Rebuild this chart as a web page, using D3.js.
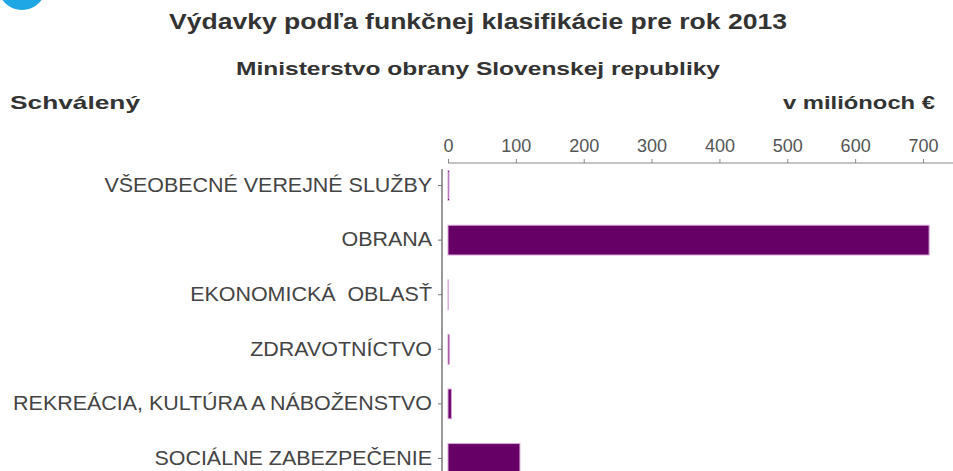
<!DOCTYPE html>
<html>
<head>
<meta charset="utf-8">
<script src="https://cdn.jsdelivr.net/npm/d3@7"></script>
<style>
  html, body { margin: 0; padding: 0; background: #fff; }
  svg { display: block; font-family: "Liberation Sans", Arial, sans-serif; }
</style>
</head>
<body>
<svg id="chart" width="953" height="471"></svg>
<script>
// Functional classification of expenditures, approved budget 2013 (mil. €)
const categories = [
  "VŠEOBECNÉ VEREJNÉ SLUŽBY",
  "OBRANA",
  "EKONOMICKÁ  OBLASŤ",
  "ZDRAVOTNÍCTVO",
  "REKREÁCIA, KULTÚRA A NÁBOŽENSTVO",
  "SOCIÁLNE ZABEZPEČENIE"
];
const values = [1.5, 709, 0.3, 2, 5, 106];
const tickValues = [0, 100, 200, 300, 400, 500, 600, 700];

const title = "Výdavky podľa funkčnej klasifikácie pre rok 2013";
const subtitle = "Ministerstvo obrany Slovenskej republiky";
const leftNote = "Schválený";
const unitNote = "v miliónoch €";

const svg = d3.select("#chart");

// decorative logo circle in the corner
svg.append("circle")
  .attr("cx", 22).attr("cy", -14).attr("r", 24)
  .attr("fill", "#1fa6e4");

// header texts use a wide set: glyphs stretched to the given run length
function header(txt, xPos, yPos, size, len, anchor) {
  svg.append("text")
    .attr("x", xPos).attr("y", yPos)
    .attr("text-anchor", anchor)
    .attr("font-size", size).attr("font-weight", "bold")
    .attr("fill", "#333")
    .attr("textLength", len)
    .attr("lengthAdjust", "spacingAndGlyphs")
    .text(txt);
}
header(title, 478, 29, 22, 618, "middle");
header(subtitle, 478, 75, 19, 484, "middle");
header(leftNote, 10, 109, 19, 130, "start");
header(unitNote, 935, 109, 19, 152, "end");

const x0 = 448;
const x = d3.scaleLinear().domain([0, 700]).range([x0, 923]);
const y = d3.scaleBand().domain(categories).range([157, 487]).paddingInner(0.4545).paddingOuter(0.25);

// top value axis
const xAxis = svg.append("g")
  .attr("transform", "translate(0,163)")
  .call(d3.axisTop(x).tickValues(tickValues).tickSize(4).tickSizeOuter(0).tickPadding(7));
xAxis.select(".domain").remove();
xAxis.append("line")
  .attr("x1", x0).attr("x2", 953).attr("y1", 0).attr("y2", 0)
  .attr("stroke", "#888").attr("stroke-width", 1);
xAxis.selectAll(".tick line").attr("stroke", "#888");
xAxis.selectAll(".tick text")
  .attr("font-size", 17.5).attr("fill", "#555")
  .attr("font-family", "'Liberation Sans', Arial, sans-serif")
  .attr("transform", "scale(1.03,1)");

// category axis
const yAxis = svg.append("g")
  .attr("transform", "translate(442,0)")
  .call(d3.axisLeft(y).tickSize(4).tickSizeOuter(0).tickPadding(6));
yAxis.select(".domain")
  .attr("d", `M0,169V471`)
  .attr("stroke", "#999").attr("stroke-width", 2);
yAxis.selectAll(".tick line").attr("stroke", "#777");
const labelStretch = 1.1;
yAxis.selectAll(".tick text")
  .attr("font-size", 19.5).attr("fill", "#444")
  .attr("font-family", "'Liberation Sans', Arial, sans-serif")
  .attr("x", -10 / labelStretch)
  .attr("transform", `scale(${labelStretch},1)`)
  .style("white-space", "pre");

// bars
svg.append("g").selectAll("rect")
  .data(values)
  .join("rect")
  .attr("x", x(0))
  .attr("y", (d, i) => y(categories[i]))
  .attr("width", d => x(d) - x(0))
  .attr("height", y.bandwidth())
  .attr("fill", "#660066")
  .attr("stroke", "#d9a6d9")
  .attr("stroke-width", 1);
</script>
</body>
</html>
